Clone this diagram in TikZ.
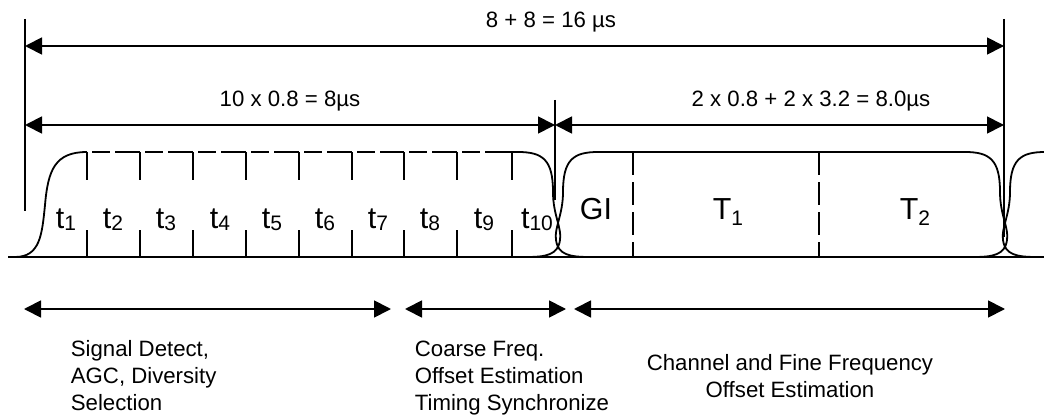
\documentclass[tikz,border=0pt]{standalone}
\usepackage{fontspec}
\setmainfont{Liberation Sans}
\usetikzlibrary{arrows.meta,positioning}

\newcommand{\sub}[2][-1pt]{\raisebox{#1}{\fontsize{10.5}{10.5}\selectfont #2}}

\begin{document}
\begin{tikzpicture}[x=0.5pt,y=-0.5pt,line width=0.9pt,
  dimarrow/.style={{Triangle[length=8.5pt,width=8.5pt]}-{Triangle[length=8.5pt,width=8.5pt]}},
  guard/.style={dash pattern=on 11.5pt off 3.5pt},
  smalltxt/.style={font=\fontsize{11.1}{13.5}\selectfont,inner sep=0pt},
  bigtxt/.style={font=\fontsize{15.2}{18}\selectfont,inner sep=0pt}]
\useasboundingbox (0,0) rectangle (1044,417);

% reference lines
\coordinate (ltop) at (25,19);
\coordinate (lbot) at (25,211);
\coordinate (mtop) at (555,100);
\coordinate (mbot) at (555,200);
\coordinate (rtop) at (1004,19);
\coordinate (rbot) at (1004,237);
\draw (ltop) -- (lbot);
\draw (mtop) -- (mbot);
\draw (rtop) -- (rbot);

% durations
\coordinate (a1) at (25,46);
\coordinate (a2) at (1004,46);
\coordinate (b1) at (25,125);
\coordinate (b2) at (555,125);
\coordinate (b3) at (1004,125);
\draw[dimarrow] (a1) -- (a2);
\draw[dimarrow] (b1) -- (b2);
\draw[dimarrow] (b2) -- (b3);
\node[smalltxt,anchor=base] (total) at (551,28) {8 + 8 = 16 µs};
\node[smalltxt,anchor=base] (short) at (290,107) {10 x 0.8 = 8µs};
\node[smalltxt,anchor=base] (long) at (811,107) {2 x 0.8 + 2 x 3.2 = 8.0µs};

% signal
\draw (8,257) -- (1044,257);
\draw (15,257) .. controls (40,257) and (42,235) .. (45,205)
  .. controls (48,170) and (55,152) .. (87,152);
\foreach \x in {87,140,193,246,299,352,404,457,512} {
  \draw (\x,152) -- (\x,180);
  \draw (\x,230) -- (\x,257);
}
\foreach \a/\b in {87/140,140/193,193/246,246/299,299/352,352/404,404/457,457/512}
  \draw (\a+5,152) -- (\a+23,152) (\a+28,152) -- (\b,152);
\draw (512,152) -- (518,152);
\draw (598,152) -- (965,152);
\foreach \m in {558,1005} {
  \draw (\m-40,152) .. controls (\m-15,152) and (\m-5,160) .. (\m-5,192)
    .. controls (\m-5,215) and (\m+4,228) .. (\m+2,240)
    .. controls (\m,255) and (\m-12,257) .. (\m-32,257);
  \draw (\m+40,152) .. controls (\m+15,152) and (\m+5,160) .. (\m+5,192)
    .. controls (\m+5,215) and (\m-4,228) .. (\m-2,240)
    .. controls (\m,255) and (\m+12,257) .. (\m+32,257);
}
\draw[guard] (633,152) -- (633,257);
\draw[guard] (819,152) -- (819,257);

% symbol labels
\foreach \x [count=\i] in {66,113,166,220,272,325,378,430,484,537}
  \node[bigtxt,anchor=base] (t\i) at (\x,228) {t\sub{\i}};
\node[bigtxt,anchor=base] (gi) at (596,220) {GI};
\node[bigtxt,anchor=base] (T1) at (728,219) {T\sub[-3pt]{1}};
\node[bigtxt,anchor=base] (T2) at (915,219) {T\sub[-3pt]{2}};

% processing stages
\coordinate (s1) at (24,309);
\coordinate (e1) at (391,309);
\coordinate (s2) at (405,309);
\coordinate (e2) at (566,309);
\coordinate (s3) at (574,309);
\coordinate (e3) at (1005,309);
\draw[dimarrow] (s1) -- (e1);
\draw[dimarrow] (s2) -- (e2);
\draw[dimarrow] (s3) -- (e3);
\node[smalltxt,anchor=north west,align=left] (detect) at (70,340)
  {Signal Detect,\\AGC, Diversity\\Selection};
\node[smalltxt,anchor=north west,align=left] (coarse) at (414,340)
  {Coarse Freq.\\Offset Estimation\\Timing Synchronize};
\node[smalltxt,anchor=north,align=center] (fine) at (790,354)
  {Channel and Fine Frequency\\Offset Estimation};

\end{tikzpicture}
\end{document}
